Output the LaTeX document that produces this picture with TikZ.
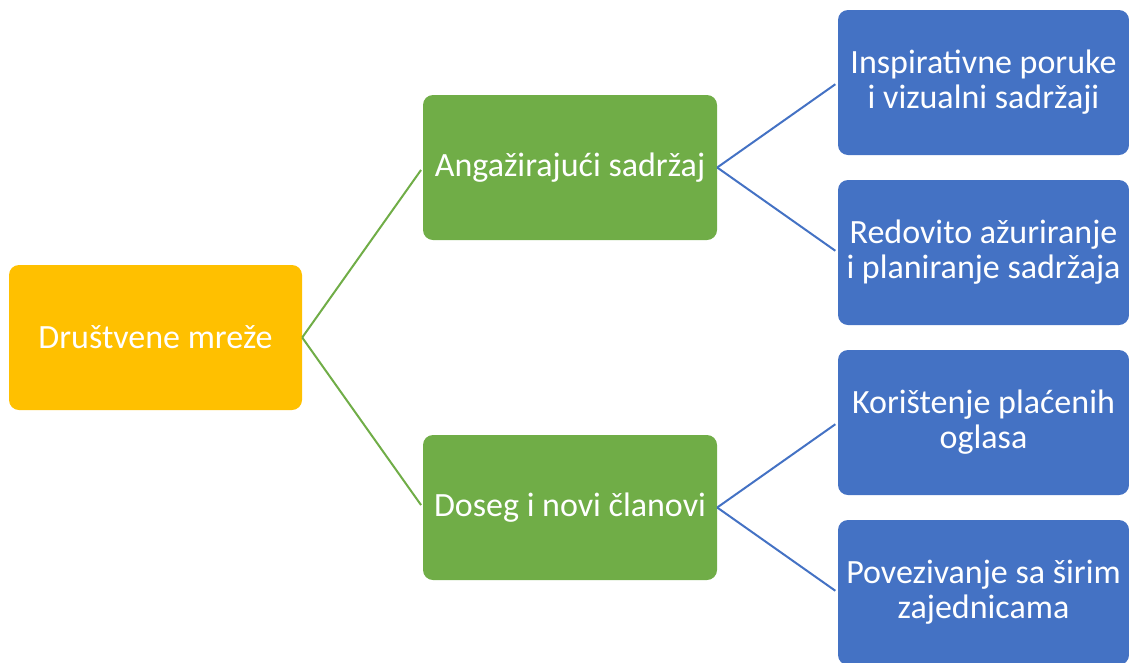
\documentclass[tikz,border=0pt]{standalone}
\usepackage{fontspec}
\setmainfont{Carlito}
\definecolor{rootc}{HTML}{FFC000}
\definecolor{greenc}{HTML}{70AD47}
\definecolor{bluec}{HTML}{4472C4}
\begin{document}
\begin{tikzpicture}[x=1pt,y=-1pt,
  box/.style={rounded corners=10pt, inner sep=0pt, text=white, align=center,
    font=\fontsize{34}{35}\selectfont},
  rootbox/.style={box, fill=rootc, minimum width=293pt, minimum height=145pt},
  greenbox/.style={box, fill=greenc, minimum width=294pt, minimum height=145pt},
  bluebox/.style={box, fill=bluec, minimum width=291pt, minimum height=145pt},
  gline/.style={draw=greenc, line width=2pt, shorten >=3pt},
  bline/.style={draw=bluec, line width=2pt, shorten >=3pt}]
\useasboundingbox (0,0) rectangle (1129,662);
\node[rootbox] (r) at (155.5,337.5) {Društvene mreže};
\node[greenbox] (g1) at (570,167.5) {Angažirajući sadržaj};
\node[greenbox] (g2) at (570,507.5) {Doseg i novi članovi};
\node[bluebox] (b1) at (983.5,82.5) {Inspirativne poruke\\i vizualni sadržaji};
\node[bluebox] (b2) at (983.5,252.5) {Redovito ažuriranje\\i planiranje sadržaja};
\node[bluebox] (b3) at (983.5,422.5) {Korištenje plaćenih\\oglasa};
\node[bluebox] (b4) at (983.5,592.5) {Povezivanje sa širim\\zajednicama};
\draw[gline] (r.east) -- (g1.west);
\draw[gline] (r.east) -- (g2.west);
\draw[bline] (g1.east) -- (b1.west);
\draw[bline] (g1.east) -- (b2.west);
\draw[bline] (g2.east) -- (b3.west);
\draw[bline] (g2.east) -- (b4.west);
\end{tikzpicture}
\end{document}
